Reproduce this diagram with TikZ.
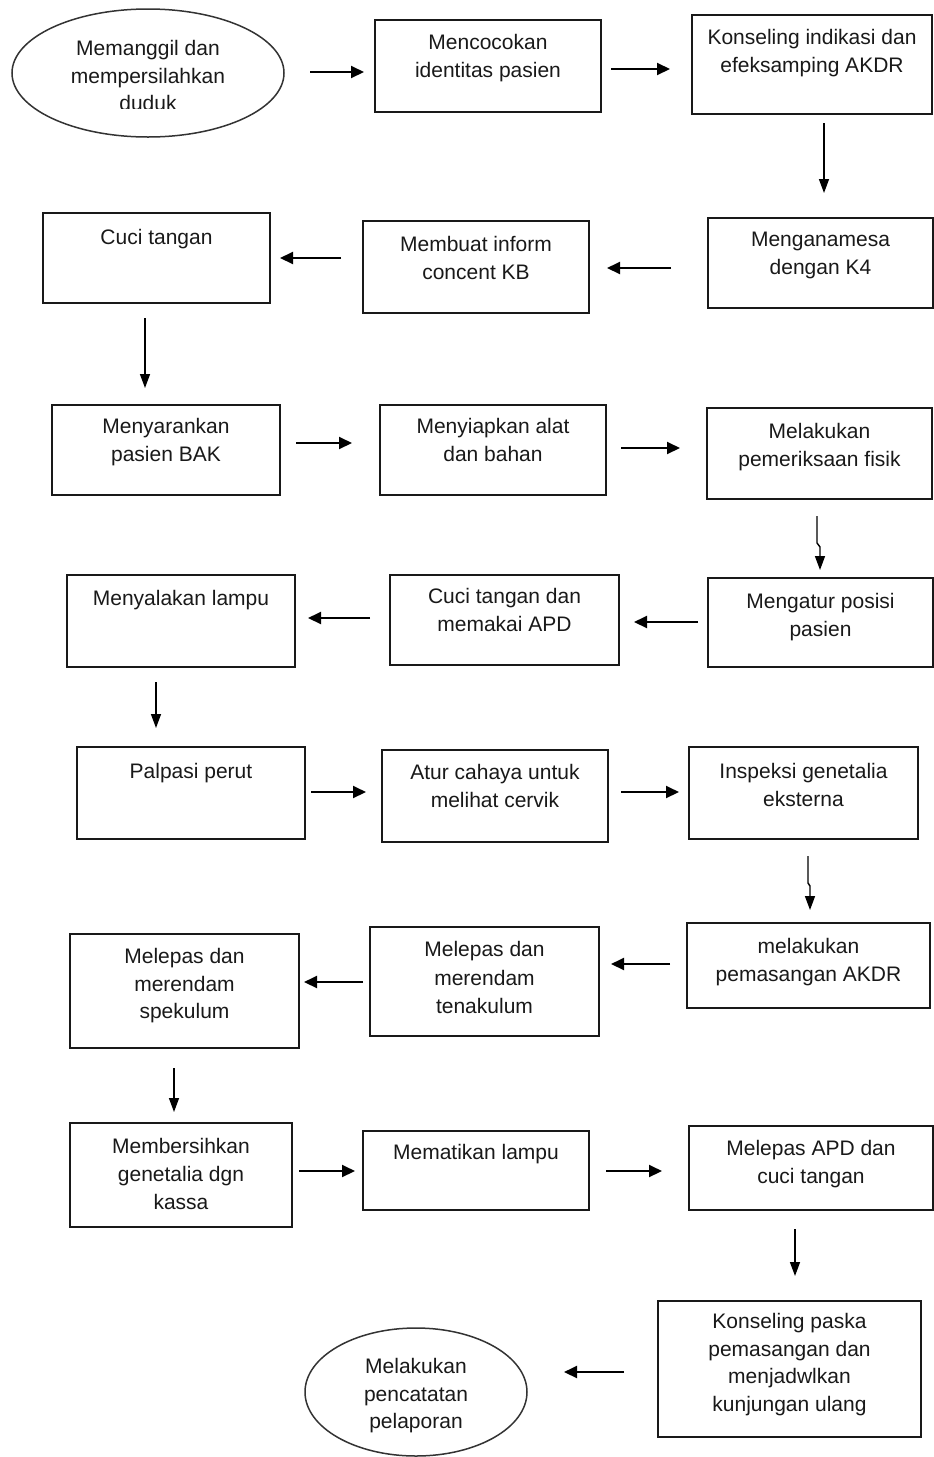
\documentclass[tikz,border=0pt]{standalone}
\usepackage{fontspec}
\setmainfont{Liberation Sans}
\usetikzlibrary{arrows.meta,shapes.geometric}
\begin{document}
\begin{tikzpicture}[x=1pt,y=-1pt,
  box/.style={draw=black!90, line width=1.6pt, rectangle, inner sep=0pt, outer sep=0pt},
  oval/.style={draw=black!80, line width=1.5pt, ellipse, inner sep=0pt, outer sep=0pt},
  txt/.style={anchor=north, align=center, inner sep=0pt, text=black!90, font=\fontsize{21}{27.5}\selectfont},
  harr/.style={line width=2pt, -{Triangle[length=13pt,width=12pt]}},
  varr/.style={line width=1.4pt, -{Triangle[length=14pt,width=10pt]}}
]
\path[fill=white, use as bounding box] (0,0) rectangle (934,1457);

% ---- boxes ----
\node[oval, minimum width=272pt, minimum height=128pt] (e1) at (148,73) {};
\node[box, minimum width=226pt, minimum height=92pt] (b2) at (488,66) {};
\node[box, minimum width=240pt, minimum height=99pt] (b3) at (812,64.5) {};
\node[box, minimum width=225pt, minimum height=90pt] (b4) at (820.5,263) {};
\node[box, minimum width=226pt, minimum height=92pt] (b5) at (476,267) {};
\node[box, minimum width=227pt, minimum height=90pt] (b6) at (156.5,258) {};
\node[box, minimum width=228pt, minimum height=90pt] (b7) at (166,450) {};
\node[box, minimum width=226pt, minimum height=90pt] (b8) at (493,450) {};
\node[box, minimum width=225pt, minimum height=91pt] (b9) at (819.5,453.5) {};
\node[box, minimum width=225pt, minimum height=89pt] (b10) at (820.5,622.5) {};
\node[box, minimum width=229pt, minimum height=90pt] (b11) at (504.5,620) {};
\node[box, minimum width=228pt, minimum height=92pt] (b12) at (181,621) {};
\node[box, minimum width=228pt, minimum height=92pt] (b13) at (191,793) {};
\node[box, minimum width=226pt, minimum height=92pt] (b14) at (495,796) {};
\node[box, minimum width=229pt, minimum height=92pt] (b15) at (803.5,793) {};
\node[box, minimum width=243pt, minimum height=85pt] (b16) at (808.5,965.5) {};
\node[box, minimum width=229pt, minimum height=109pt] (b17) at (484.5,981.5) {};
\node[box, minimum width=229pt, minimum height=114pt] (b18) at (184.5,991) {};
\node[box, minimum width=222pt, minimum height=104pt] (b19) at (181,1175) {};
\node[box, minimum width=226pt, minimum height=79pt] (b20) at (476,1170.5) {};
\node[box, minimum width=244pt, minimum height=84pt] (b21) at (811,1168) {};
\node[box, minimum width=263pt, minimum height=136pt] (b22) at (789.5,1369) {};
\node[oval, minimum width=222pt, minimum height=128pt] (e23) at (416,1392) {};

% ---- texts ----
\begin{scope}
  \clip (e1.north west) rectangle ([shift={(0,35)}]e1.east);
  \node[txt] (t1) at ([shift={(0,27.25)}]e1.north) {\strut Memanggil dan\\mempersilahkan\\duduk};
\end{scope}
\node[txt] (t2) at ([shift={(0,10.25)}]b2.north) {\strut Mencocokan\\identitas pasien};
\node[txt] (t3) at ([shift={(0,10.25)}]b3.north) {\strut Konseling indikasi dan\\efeksamping AKDR};
\node[txt] (t4) at ([shift={(0,9.25)}]b4.north) {\strut Menganamesa\\dengan K4};
\node[txt] (t5) at ([shift={(0,11.25)}]b5.north) {\strut Membuat inform\\concent KB};
\node[txt] (t6) at ([shift={(0,12.25)}]b6.north) {\strut Cuci tangan};
\node[txt] (t7) at ([shift={(0,9.25)}]b7.north) {\strut Menyarankan\\pasien BAK};
\node[txt] (t8) at ([shift={(0,9.25)}]b8.north) {\strut Menyiapkan alat\\dan bahan};
\node[txt] (t9) at ([shift={(0,11.25)}]b9.north) {\strut Melakukan\\pemeriksaan fisik};
\node[txt] (t10) at ([shift={(0,11.25)}]b10.north) {\strut Mengatur posisi\\pasien};
\node[txt] (t11) at ([shift={(0,9.25)}]b11.north) {\strut Cuci tangan dan\\memakai APD};
\node[txt] (t12) at ([shift={(0,11.25)}]b12.north) {\strut Menyalakan lampu};
\node[txt] (t13) at ([shift={(0,12.25)}]b13.north) {\strut Palpasi perut};
\node[txt] (t14) at ([shift={(0,10.25)}]b14.north) {\strut Atur cahaya untuk\\melihat cervik};
\node[txt] (t15) at ([shift={(0,12.25)}]b15.north) {\strut Inspeksi genetalia\\eksterna};
\node[txt] (t16) at ([shift={(0,11.25)}]b16.north) {\strut melakukan\\pemasangan AKDR};
\node[txt] (t17) at ([shift={(0,10.25)}]b17.north) {\strut Melepas dan\\[1pt]merendam\\[1pt]tenakulum};
\node[txt] (t18) at ([shift={(0,10.25)}]b18.north) {\strut Melepas dan\\merendam\\spekulum};
\node[txt] (t19) at ([shift={(0,11.25)}]b19.north) {\strut Membersihkan\\[0.5pt]genetalia dgn\\[0.5pt]kassa};
\node[txt] (t20) at ([shift={(0,9.25)}]b20.north) {\strut Mematikan lampu};
\node[txt] (t21) at ([shift={(0,10.25)}]b21.north) {\strut Melepas APD dan\\cuci tangan};
\node[txt] (t22) at ([shift={(0,8.25)}]b22.north) {\strut Konseling paska\\pemasangan dan\\menjadwlkan\\kunjungan ulang};
\node[txt] (t23) at ([shift={(0,26.25)}]e23.north) {\strut Melakukan\\pencatatan\\pelaporan};

% ---- connectors ----
\draw[harr] ([shift={(26,-1)}]e1.east) -- ([shift={(-11,6)}]b2.west);
\draw[harr] ([shift={(10,3)}]b2.east) -- ([shift={(-22,4.5)}]b3.west);
\draw[varr] ([shift={(12,9)}]b3.south) -- ([shift={(3.5,-25)}]b4.north);
\draw[harr] ([shift={(-37,5)}]b4.west) -- ([shift={(18,1)}]b5.east);
\draw[harr] ([shift={(-22,-9)}]b5.west) -- ([shift={(10,0)}]b6.east);
\draw[varr] ([shift={(-11.5,15)}]b6.south) -- ([shift={(-21,-17)}]b7.north);
\draw[harr] ([shift={(16,-7)}]b7.east) -- ([shift={(-28,-7)}]b8.west);
\draw[harr] ([shift={(15,-2)}]b8.east) -- ([shift={(-27,-5.5)}]b9.west);
\draw[varr] ([shift={(-2.5,17)}]b9.south) -- ++(0,27) -- ++(3,4) -- ([shift={(-0.5,-8)}]b10.north);
\draw[harr] ([shift={(-10,-0.5)}]b10.west) -- ([shift={(15,2)}]b11.east);
\draw[harr] ([shift={(-20,-2)}]b11.west) -- ([shift={(13,-3)}]b12.east);
\draw[varr] ([shift={(-25,15)}]b12.south) -- ([shift={(-35,-19)}]b13.north);
\draw[harr] ([shift={(6,-1)}]b13.east) -- ([shift={(-16,-4)}]b14.west);
\draw[harr] ([shift={(13,-4)}]b14.east) -- ([shift={(-10,-1)}]b15.west);
\draw[varr] ([shift={(4.5,17)}]b15.south) -- ++(0,27) -- ++(2,3) -- ([shift={(1.5,-13)}]b16.north);
\draw[harr] ([shift={(-17,-1.5)}]b16.west) -- ([shift={(12,-17.5)}]b17.east);
\draw[harr] ([shift={(-7,0.5)}]b17.west) -- ([shift={(5,-9)}]b18.east);
\draw[varr] ([shift={(-10.5,20)}]b18.south) -- ([shift={(-7,-11)}]b19.north);
\draw[harr] ([shift={(7,-4)}]b19.east) -- ([shift={(-8,0.5)}]b20.west);
\draw[harr] ([shift={(17,0.5)}]b20.east) -- ([shift={(-27,3)}]b21.west);
\draw[varr] ([shift={(-16,19)}]b21.south) -- ([shift={(5.5,-25)}]b22.north);
\draw[harr] ([shift={(-34,3)}]b22.west) -- ([shift={(37,-20)}]e23.east);
\end{tikzpicture}
\end{document}
